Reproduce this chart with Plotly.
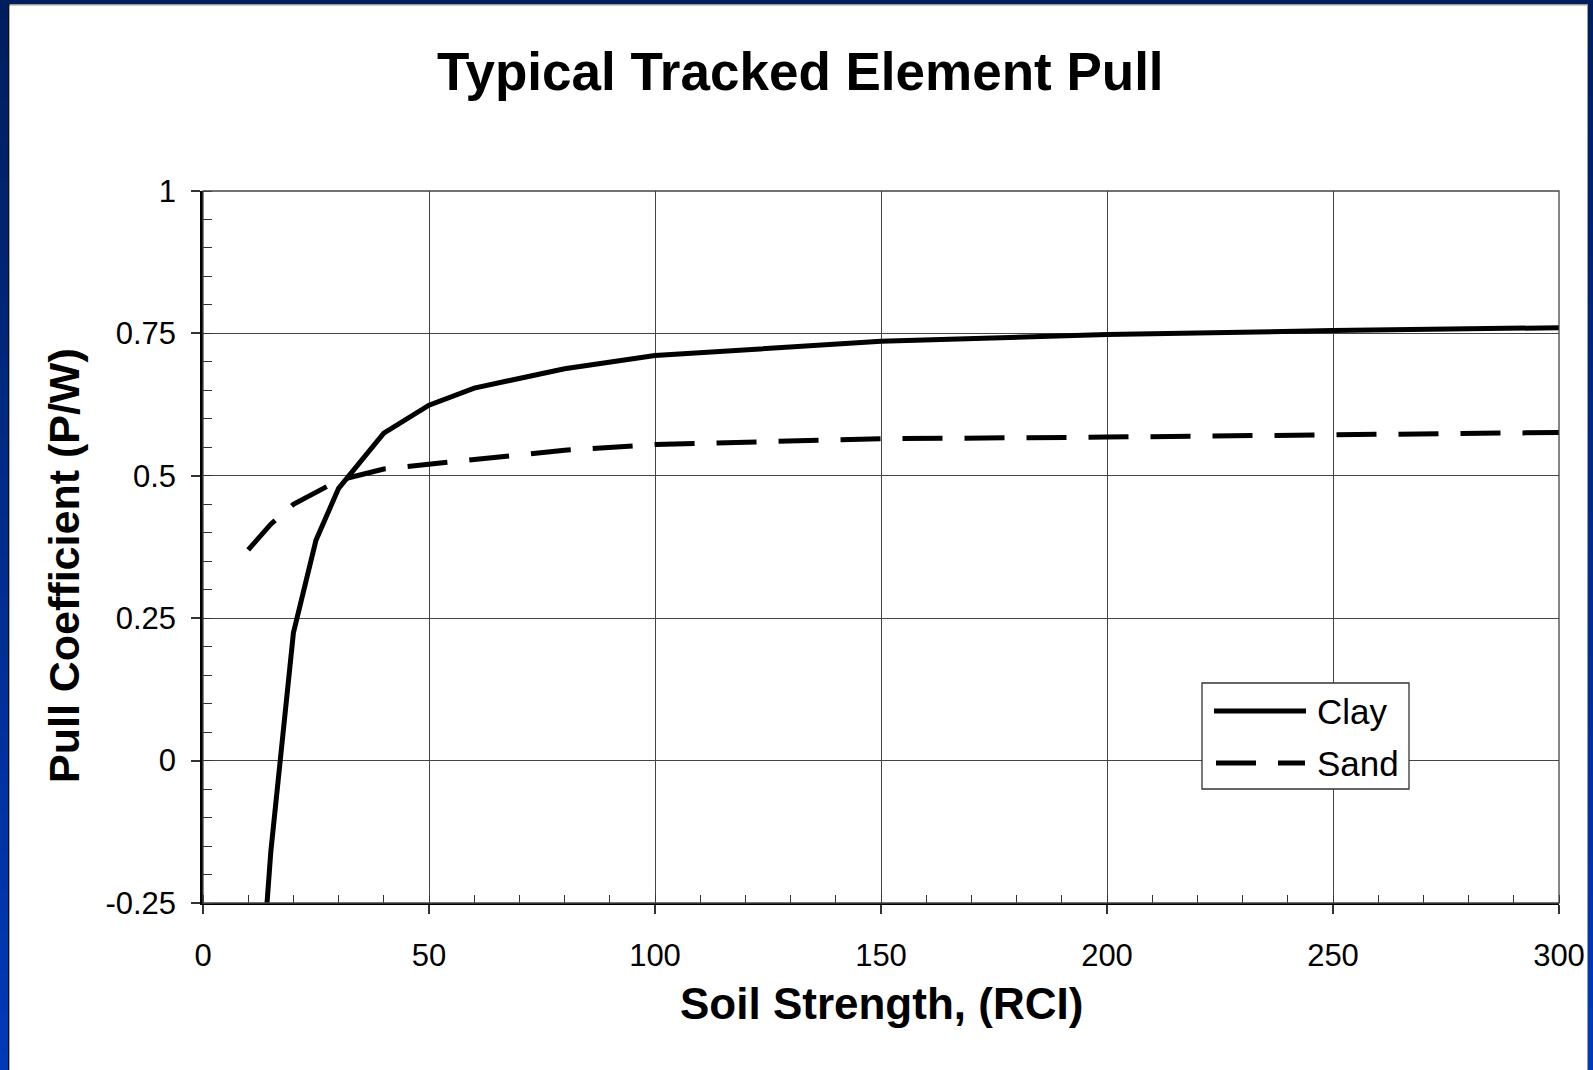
import plotly.graph_objects as go

# ---------------- data ----------------
clay_x = [10, 15, 20, 25, 30, 40, 50, 60, 80, 100, 150, 200, 250, 300]
clay_y = [-0.70, -0.16, 0.224, 0.387, 0.478, 0.575, 0.624, 0.654, 0.688, 0.711, 0.736, 0.748, 0.755, 0.760]

sand_x = [10, 15, 20, 25, 30, 40, 50, 60, 80, 100, 150, 200, 250, 275, 300]
sand_y = [0.370, 0.415, 0.450, 0.472, 0.492, 0.512, 0.520, 0.530, 0.545, 0.555, 0.565, 0.568, 0.572, 0.576, 0.576]

x_tickvals = [0, 50, 100, 150, 200, 250, 300]
x_ticktext = ["0", "50", "100", "150", "200", "250", "300"]
y_tickvals = [-0.25, 0, 0.25, 0.5, 0.75, 1]
y_ticktext = ["-0.25", "0", "0.25", "0.5", "0.75", "1"]

title_text = "Typical Tracked Element Pull"
x_title = "Soil Strength, (RCI)"
y_title = "Pull Coefficient (P/W)"
series_names = ["Clay", "Sand"]

# ---------------- layout geometry ----------------
W, H = 1593, 1070
L, R, T, B = 203, 1559, 191, 903
FONT = "Liberation Sans, Arial, sans-serif"


def px_x(p):
    return (p - L) / (R - L)


def px_y(p):
    return (B - p) / (B - T)


fig = go.Figure()

fig.add_trace(go.Scatter(x=clay_x, y=clay_y, mode="lines", name=series_names[0],
                         line=dict(color="black", width=5), showlegend=False))
fig.add_trace(go.Scatter(x=sand_x, y=sand_y, mode="lines", name=series_names[1],
                         line=dict(color="black", width=5, dash="40px,22px"), showlegend=False))

shapes = []
# blue gradient frame
n = 54
top_c = (0, 30, 94)
bot_c = (0, 58, 184)
for i in range(n):
    t = i / (n - 1)
    c = tuple(int(round(top_c[k] + (bot_c[k] - top_c[k]) * t)) for k in range(3))
    y0 = H * i / n
    y1 = H * (i + 1) / n + 1
    shapes.append(dict(type="rect", xref="paper", yref="paper", layer="below",
                       x0=px_x(-2), x1=px_x(W + 2), y0=px_y(y1), y1=px_y(y0),
                       line=dict(width=0), fillcolor="rgb(%d,%d,%d)" % c))
# white panel
shapes.append(dict(type="rect", xref="paper", yref="paper", layer="below",
                   x0=px_x(8), x1=px_x(1588), y0=px_y(H + 2), y1=px_y(4),
                   line=dict(width=0), fillcolor="#9a9a9a"))
shapes.append(dict(type="rect", xref="paper", yref="paper", layer="below",
                   x0=px_x(8), x1=px_x(9.5), y0=px_y(H + 2), y1=px_y(4),
                   line=dict(width=0), fillcolor="#111111"))
shapes.append(dict(type="rect", xref="paper", yref="paper", layer="below",
                   x0=px_x(9.5), x1=px_x(1587), y0=px_y(H + 2), y1=px_y(5.5),
                   line=dict(width=0), fillcolor="white"))
# plot box (thin top/right borders)
shapes.append(dict(type="rect", xref="paper", yref="paper", layer="above",
                   x0=0, x1=1, y0=0, y1=1, line=dict(color="#444444", width=1.3)))

# custom legend
lg_x0, lg_x1, lg_y0, lg_y1 = 1202, 1409, 683, 789
shapes.append(dict(type="rect", xref="paper", yref="paper", layer="above",
                   x0=px_x(lg_x0), x1=px_x(lg_x1), y0=px_y(lg_y1), y1=px_y(lg_y0),
                   line=dict(color="#333333", width=1.3), fillcolor="white"))
shapes.append(dict(type="line", xref="paper", yref="paper", layer="above",
                   x0=px_x(1214), x1=px_x(1306), y0=px_y(711), y1=px_y(711),
                   line=dict(color="black", width=5)))
shapes.append(dict(type="line", xref="paper", yref="paper", layer="above",
                   x0=px_x(1216), x1=px_x(1256), y0=px_y(763), y1=px_y(763),
                   line=dict(color="black", width=5)))
shapes.append(dict(type="line", xref="paper", yref="paper", layer="above",
                   x0=px_x(1278), x1=px_x(1305), y0=px_y(763), y1=px_y(763),
                   line=dict(color="black", width=5)))

annotations = [
    dict(text="<b>%s</b>" % title_text, xref="paper", yref="paper",
         x=px_x(800), y=px_y(72), showarrow=False, xanchor="center", yanchor="middle",
         font=dict(family=FONT, size=53, color="black")),
    dict(text="<b>%s</b>" % x_title, xref="paper", yref="paper",
         x=px_x(881), y=px_y(1003), showarrow=False, xanchor="center", yanchor="middle",
         font=dict(family=FONT, size=44, color="black")),
    dict(text="<b>%s</b>" % y_title, xref="paper", yref="paper", textangle=-90,
         x=px_x(64), y=px_y(566), showarrow=False, xanchor="center", yanchor="middle",
         font=dict(family=FONT, size=43, color="black")),
    dict(text=series_names[0], xref="paper", yref="paper",
         x=px_x(1315), y=px_y(711), showarrow=False, xanchor="left", yanchor="middle",
         font=dict(family=FONT, size=35, color="black")),
    dict(text=series_names[1], xref="paper", yref="paper",
         x=px_x(1315), y=px_y(763), showarrow=False, xanchor="left", yanchor="middle",
         font=dict(family=FONT, size=35, color="black")),
]

fig.update_layout(
    width=W, height=H,
    margin=dict(l=L, r=W - R, t=T, b=H - B, pad=0, autoexpand=False),
    paper_bgcolor="white",
    plot_bgcolor="rgba(0,0,0,0)",
    shapes=shapes,
    annotations=annotations,
    showlegend=False,
    font=dict(family=FONT, color="black"),
)

fig.update_xaxes(
    range=[0, 300], tickvals=x_tickvals, ticktext=x_ticktext,
    automargin=False,
    showgrid=True, gridcolor="#444444", gridwidth=1,
    showline=True, linecolor="black", linewidth=2,
    ticks="outside", ticklen=9, tickwidth=1.5, tickcolor="#333333",
    minor=dict(dtick=10, ticks="inside", ticklen=8, tickwidth=1.3, tickcolor="#333333", showgrid=False),
    tickfont=dict(family=FONT, size=31, color="black"),
    ticklabelstandoff=15,
    zeroline=False,
)
fig.update_yaxes(
    range=[-0.25, 1], tickvals=y_tickvals, ticktext=y_ticktext,
    automargin=False,
    showgrid=True, gridcolor="#444444", gridwidth=1,
    showline=True, linecolor="black", linewidth=2.5,
    ticks="outside", ticklen=9, tickwidth=1.5, tickcolor="#333333",
    minor=dict(dtick=0.05, ticks="inside", ticklen=9, tickwidth=1.3, tickcolor="#333333", showgrid=False),
    tickfont=dict(family=FONT, size=31, color="black"),
    ticklabelstandoff=9,
    zeroline=False,
)

fig.write_html(
    "out.html",
    config={"displayModeBar": False},
    post_script=("document.body.style.margin='0';document.body.style.overflow='hidden';"
                 "document.documentElement.style.overflow='hidden';"),
)
